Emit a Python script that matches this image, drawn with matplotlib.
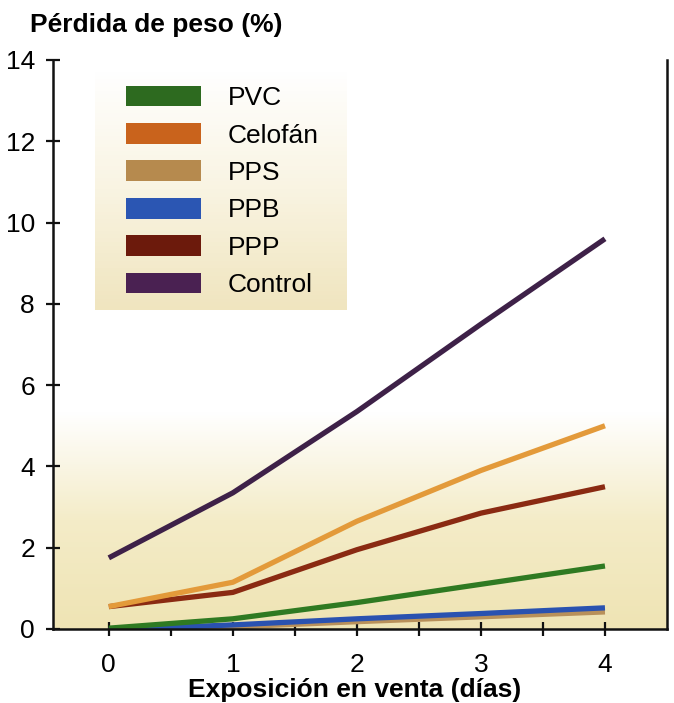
import numpy as np
import matplotlib.pyplot as plt
from matplotlib.patches import Patch
from matplotlib.colors import LinearSegmentedColormap

plt.rcParams['font.family'] = ['Liberation Sans', 'DejaVu Sans']

# ── data ──────────────────────────────────────────────────────────────
dias = [0, 1, 2, 3, 4]
pvc      = [0.02, 0.25, 0.65, 1.10, 1.55]
celofan  = [0.55, 1.15, 2.65, 3.90, 5.00]
pps      = [-0.05, 0.05, 0.18, 0.30, 0.42]
ppb      = [-0.02, 0.10, 0.25, 0.38, 0.52]
ppp      = [0.55, 0.90, 1.95, 2.85, 3.50]
control  = [1.75, 3.35, 5.35, 7.50, 9.60]

series_names = ['PVC', 'Celofán', 'PPS', 'PPB', 'PPP', 'Control']
line_colors = ['#2f7a22', '#e39a3a', '#b8905a', '#2a52b0', '#8a2a12', '#3e2148']
patch_colors = ['#2d6a1f', '#c9631c', '#b68a4e', '#2b56b3', '#6c1a0c', '#4a2152']
series = [pvc, celofan, pps, ppb, ppp, control]

fig = plt.figure(figsize=(6.74, 7.03), dpi=100)
ax = fig.add_axes([0.0786, 0.1053, 0.911, 0.8094])
ax.set_xlim(-0.45, 4.5)
ax.set_ylim(0, 14)

# pale yellow wash at the bottom, fading to white
cmap = LinearSegmentedColormap.from_list('wash', ['#efe4b4', '#f4ecc8', '#ffffff'])
grad = np.linspace(0, 1, 256).reshape(-1, 1)
grad = np.clip(grad / 0.38, 0, 1)
ax.imshow(grad, cmap=cmap, aspect='auto', origin='lower',
          extent=[-0.45, 4.5, 0, 14], zorder=0)

# legend backdrop
lg = np.linspace(0, 1, 64).reshape(-1, 1)
cmap2 = LinearSegmentedColormap.from_list('wash2', ['#f0e5bf', '#f9f4e2', '#ffffff'])
ax.imshow(lg, cmap=cmap2, aspect='auto', origin='lower',
          extent=[-0.11, 1.92, 7.85, 13.8], zorder=0.5)

order = [2, 3, 0, 4, 1, 5]
for i in order:
    ax.plot(dias, series[i], color=line_colors[i], lw=3.8,
            solid_capstyle='butt', zorder=2)

handles = [Patch(facecolor=c, edgecolor='none') for c in patch_colors]
ax.legend(handles, series_names, loc='upper left', bbox_to_anchor=(0.119, 0.955),
          frameon=False, fontsize=19, handlelength=2.85, handleheight=0.83,
          labelspacing=0.49, handletextpad=1.0, borderpad=0, borderaxespad=0)

ax.spines['top'].set_visible(False)
for s in ['left', 'right', 'bottom']:
    ax.spines[s].set_linewidth(1.8)
    ax.spines[s].set_color('#111111')

ax.set_yticks(range(0, 15, 2))
ax.set_xticks(dias)
ax.set_xticks([0.5, 1.5, 2.5, 3.5], minor=True)
ax.tick_params(axis='both', which='both', direction='inout', length=10,
               width=1.6, color='#111111', labelsize=19)
ax.tick_params(axis='x', pad=12)
ax.tick_params(axis='y', pad=8)

ax.set_xlabel('Exposición en venta (días)', fontsize=19, fontweight='bold')
ax.xaxis.set_label_coords(0.492, -0.107)
ax.xaxis.label.set_va('center')
fig.text(0.045, 0.964, 'Pérdida de peso (%)', fontsize=19, fontweight='bold',
         ha='left', va='center')

plt.savefig('out.png', dpi=100)
